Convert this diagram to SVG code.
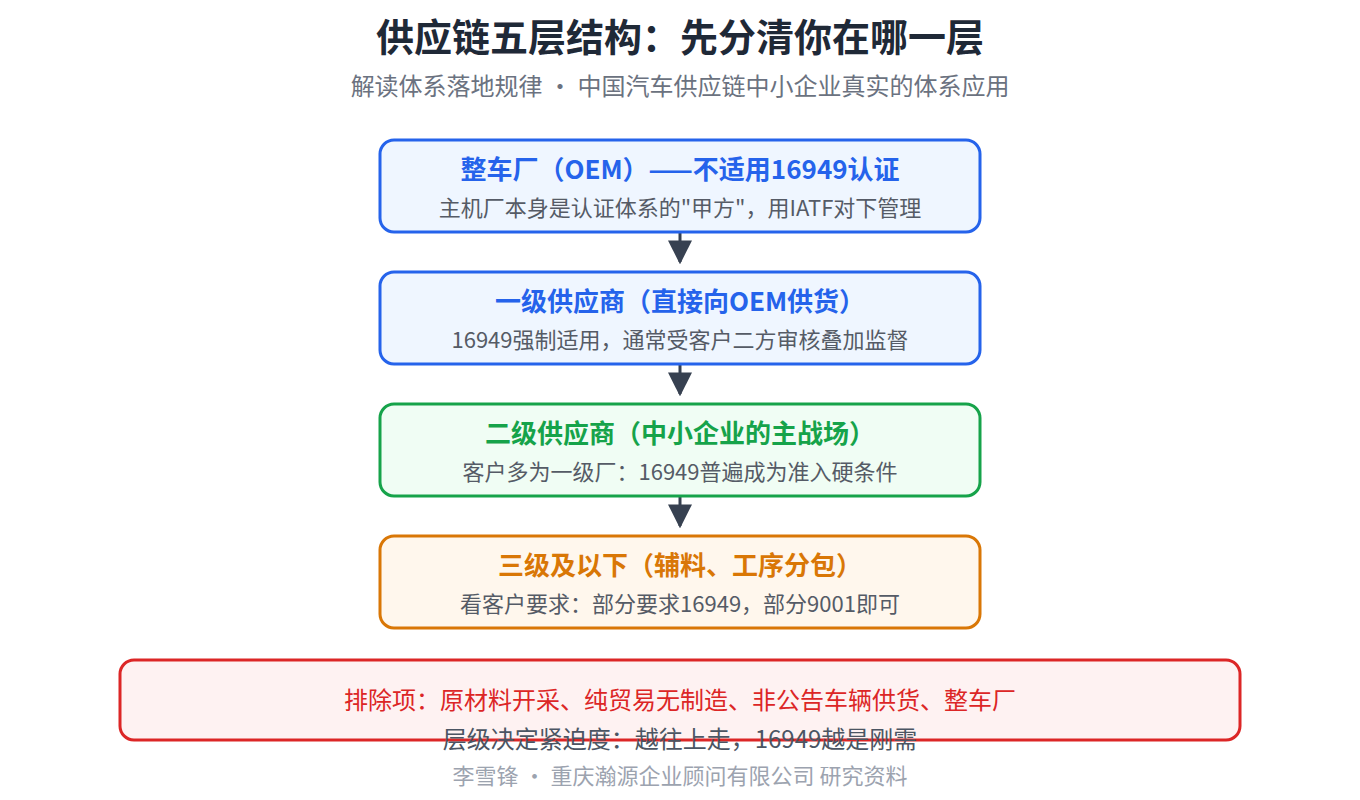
<svg xmlns="http://www.w3.org/2000/svg" width="1360" height="800" viewBox="0 0 1360 800">
<style>
text{font-family:"Noto Sans CJK SC","Noto Sans",sans-serif;text-anchor:middle}
.t{font-size:26px;font-weight:700}
.s{font-size:22px;fill:#555b66}
.box{stroke-width:3}
</style>
<defs>
<marker id="a" viewBox="0 0 10 10" refX="9" refY="5" markerWidth="24" markerHeight="24" markerUnits="userSpaceOnUse" orient="auto"><path d="M0,0 L10,5 L0,10 Z" fill="#374151"/></marker></defs>
<rect width="1360" height="800" fill="#fff"/>
<text x="680" y="51" font-size="38" font-weight="700" fill="#1f2937">供应链五层结构：先分清你在哪一层</text>
<text x="680" y="95" font-size="24" fill="#6b7280">解读体系落地规律 · 中国汽车供应链中小企业真实的体系应用</text>
<g id="connectors" stroke="#374151" stroke-width="3">
<line x1="680" y1="232" x2="680" y2="262" marker-end="url(#a)"/>
<line x1="680" y1="364" x2="680" y2="394" marker-end="url(#a)"/>
<line x1="680" y1="496" x2="680" y2="526" marker-end="url(#a)"/>
</g>
<g id="n1"><rect class="box" x="380" y="140" width="600" height="92" rx="14" fill="#eff6ff" stroke="#2563eb"/><text class="t" x="680" y="179" fill="#2563eb">整车厂（OEM）——不适用16949认证</text><text class="s" x="680" y="216">主机厂本身是认证体系的"甲方"，用IATF对下管理</text></g>
<g id="n2"><rect class="box" x="380" y="272" width="600" height="92" rx="14" fill="#eff6ff" stroke="#2563eb"/><text class="t" x="680" y="311" fill="#2563eb">一级供应商（直接向OEM供货）</text><text class="s" x="680" y="348">16949强制适用，通常受客户二方审核叠加监督</text></g>
<g id="n3"><rect class="box" x="380" y="404" width="600" height="92" rx="14" fill="#f0fdf4" stroke="#16a34a"/><text class="t" x="680" y="443" fill="#16a34a">二级供应商（中小企业的主战场）</text><text class="s" x="680" y="480">客户多为一级厂：16949普遍成为准入硬条件</text></g>
<g id="n4"><rect class="box" x="380" y="536" width="600" height="92" rx="14" fill="#fff7ed" stroke="#d97706"/><text class="t" x="680" y="575" fill="#d97706">三级及以下（辅料、工序分包）</text><text class="s" x="680" y="612">看客户要求：部分要求16949，部分9001即可</text></g>
<g id="n5"><rect class="box" x="120" y="660" width="1120" height="80" rx="14" fill="#fef2f2" stroke="#dc2626"/><text x="680" y="709" font-size="24" fill="#dc2626">排除项：原材料开采、纯贸易无制造、非公告车辆供货、整车厂</text></g>
<text x="680" y="748" font-size="24" fill="#4b5563">层级决定紧迫度：越往上走，16949越是刚需</text>
<text x="680" y="784" font-size="22" fill="#9ca3af">李雪锋 · 重庆瀚源企业顾问有限公司 研究资料</text>
</svg>
